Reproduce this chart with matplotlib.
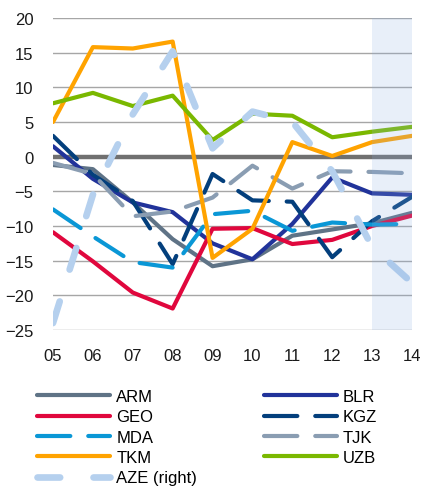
import matplotlib
matplotlib.use("Agg")
import matplotlib.pyplot as plt
import numpy as np

plt.rcParams["font.family"] = ["Liberation Sans", "DejaVu Sans"]

years = ["05", "06", "07", "08", "09", "10", "11", "12", "13", "14"]

arm = [-1.2, -1.8, -6.6, -11.9, -15.8, -14.8, -11.4, -10.5, -9.6, -8.1]
blr = [1.5, -3.2, -6.6, -8.0, -12.5, -14.8, -9.7, -3.0, -5.3, -5.5]
geo = [-10.9, -15.1, -19.6, -21.9, -10.4, -10.3, -12.6, -12.0, -10.0, -8.5]
kgz = [3.0, -2.6, -6.4, -15.5, -2.5, -6.3, -6.5, -14.5, -9.3, -5.8]
mda = [-7.6, -11.5, -15.2, -16.0, -8.3, -7.8, -10.7, -9.5, -9.8, -9.7]
tjk = [-0.9, -2.5, -8.6, -7.9, -5.9, -1.3, -4.6, -2.1, -2.2, -2.4]
tkm = [5.0, 15.8, 15.6, 16.6, -14.6, -10.4, 2.1, 0.1, 2.1, 3.0]
uzb = [7.7, 9.2, 7.3, 8.8, 2.4, 6.2, 5.9, 2.8, 3.6, 4.3]
aze = [-24.0, -5.5, 6.1, 15.2, 1.2, 6.5, 5.0, -2.1, -13.0, -18.2]  # right axis

yticks = [20, 15, 10, 5, 0, -5, -10, -15, -20, -25]

x = np.arange(len(years))

fig = plt.figure(figsize=(4.22, 4.89), dpi=100)
ax = fig.add_axes([53 / 422, 1 - 331 / 489, 359 / 422, 312 / 489])

for t in yticks:
    if t == 0:
        ax.axhline(0, color="#707070", lw=3.2, zorder=1)
    else:
        ax.axhline(t, color="#a6a6a6", lw=1.0, zorder=1)

lw = 3.0
dash = (8, 4.3)
handles = {}
handles["ARM"], = ax.plot(x, arm, color="#5f7386", lw=lw, solid_capstyle="round", zorder=3)
handles["BLR"], = ax.plot(x, blr, color="#21339a", lw=lw, solid_capstyle="round", zorder=3)
handles["GEO"], = ax.plot(x, geo, color="#e0073d", lw=lw, solid_capstyle="round", zorder=3)
handles["KGZ"], = ax.plot(x, kgz, color="#033f7c", lw=lw, dashes=dash, dash_capstyle="round", zorder=3)
handles["MDA"], = ax.plot(x, mda, color="#0a97d6", lw=lw, dashes=dash, dash_capstyle="round", zorder=3)
handles["TJK"], = ax.plot(x, tjk, color="#8a9db2", lw=lw, dashes=dash, dash_capstyle="round", zorder=3)
handles["TKM"], = ax.plot(x, tkm, color="#ffa300", lw=lw, solid_capstyle="round", zorder=3)
handles["UZB"], = ax.plot(x, uzb, color="#7ab800", lw=lw, solid_capstyle="round", zorder=3)

ax.set_xlim(0, len(years) - 1)
ax.set_ylim(-25, 20)
ax.set_xticks(x)
ax.set_xticklabels(years)
ax.set_yticks(yticks)
ax.tick_params(length=0, labelsize=12, colors="#1a1a1a")
ax.tick_params(axis="x", pad=13)
ax.tick_params(axis="y", pad=14)
for s in ax.spines.values():
    s.set_visible(False)

ax2 = ax.twinx()
ax2.set_ylim(-25, 20)
handles["AZE (right)"], = ax2.plot(x, aze, color="#b5d0ee", lw=4.8, dashes=(3.4, 5.0),
                                   dash_capstyle="round", zorder=3)
ax2.axvspan(8, 9, color="#8cafe1", alpha=0.2, lw=0, zorder=5)
ax2.set_yticks([])
for s in ax2.spines.values():
    s.set_visible(False)

order = ["ARM", "GEO", "MDA", "TKM", "AZE (right)", "BLR", "KGZ", "TJK", "UZB"]
fig.legend([handles[k] for k in order], order, loc="upper left",
           bbox_to_anchor=(37 / 422, 1 - 390 / 489), ncol=2, frameon=False,
           fontsize=12, handlelength=4.4, handletextpad=0.35, labelspacing=0.32,
           columnspacing=4.0, borderpad=0, borderaxespad=0)

fig.savefig("out.png", dpi=100)
